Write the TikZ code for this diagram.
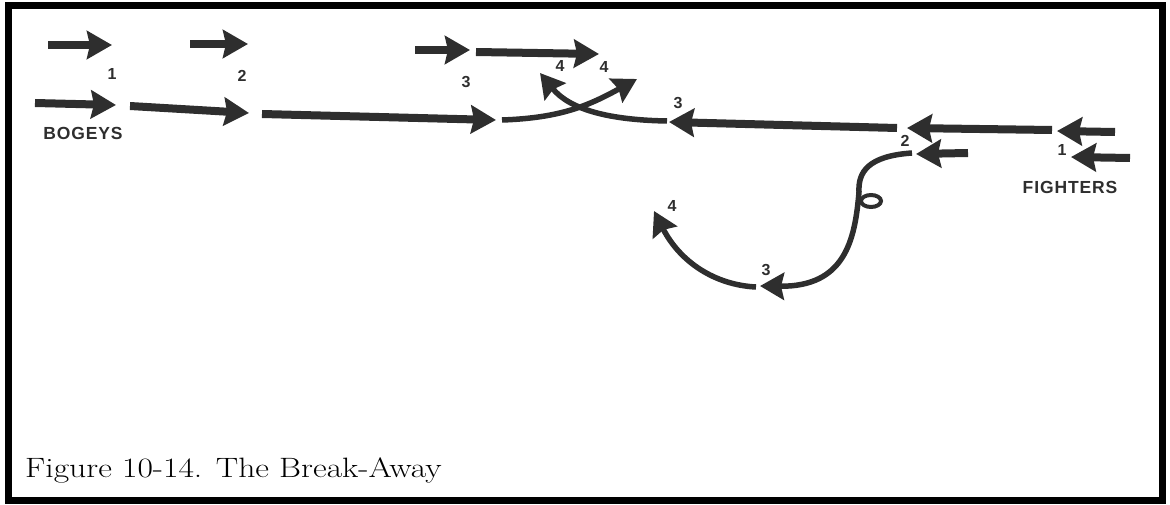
\documentclass[tikz,border=0pt]{standalone}
\usepackage{fontspec}
\usepackage{graphicx}
\newfontfamily\labelfont[LetterSpace=5]{Liberation Sans}
\usetikzlibrary{arrows.meta}
\definecolor{ink}{HTML}{2E2E2E}

\begin{document}
\begin{tikzpicture}[x=1pt,y=-1pt,
    track/.style={draw=ink,line width=8pt,-{Stealth[length=25pt,width=28pt,inset=3pt]}},
    turn/.style={draw=ink,line width=5.5pt,-{Stealth[length=24pt,width=27pt,inset=3pt]}},
    num/.style={font=\labelfont\bfseries\fontsize{16}{18}\selectfont,text=ink,inner sep=0pt},
    word/.style={font=\labelfont\bfseries\fontsize{17.5}{19}\selectfont,text=ink,inner sep=0pt}]
    \useasboundingbox (0,0) rectangle (1170,505);
    \draw[line width=7pt] (8,6) rectangle (1162,500);
    % bogeys
    \draw[track] (48,45) -- (112,45);
    \draw[track] (190,44) -- (248,44);
    \draw[track] (415,50) -- (470,50);
    \draw[track] (476,52) -- (599,54);
    \draw[track] (35,103) -- (116,105);
    \draw[track] (130,106) -- (249,113);
    \draw[track] (262,114) -- (496,120);
    \draw[turn] (502,120) .. controls (560,118) and (588,106) .. (637,79);
    \node[num] (b1) at (112,74) {1};
    \node[num] (b2) at (242,76) {2};
    \node[num] (b3) at (466,82) {3};
    \node[num] (b4) at (604,67) {4};
    \node[word] (bogeys) at (83,133) {BOGEYS};
    % fighters
    \draw[track] (1115,132) -- (1057,131);
    \draw[track] (1052,130) -- (907,128);
    \draw[track] (897,128) -- (669,122);
    \draw[turn] (667,121) .. controls (610,120) and (570,110) .. (540,73);
    \draw[track] (1130,158) -- (1071,157);
    \draw[track] (968,153) -- (916,154);
    \draw[turn] (912,153) .. controls (868,156) and (858,172) .. (859,192)
        .. controls (855,240) and (845,287) .. (760,286);
    \draw[ink,line width=4pt] (871,201) ellipse [x radius=10, y radius=6];
    \draw[turn] (756,287) .. controls (715,285) and (680,262) .. (654,211);
    \node[num] (f1) at (1062,150) {1};
    \node[num] (f2) at (905,141) {2};
    \node[num] (f3) at (678,103) {3};
    \node[num] (f4) at (560,66) {4};
    \node[num] (g3) at (766,270) {3};
    \node[num] (g4) at (672,206) {4};
    \node[word] (fighters) at (1070,187) {FIGHTERS};
    \node[anchor=base west,inner sep=0pt,font=\fontsize{28}{32}\selectfont] (caption) at (25,477) {\scalebox{1.2}[1]{Figure 10-14. The Break-Away}};
\end{tikzpicture}
\end{document}
